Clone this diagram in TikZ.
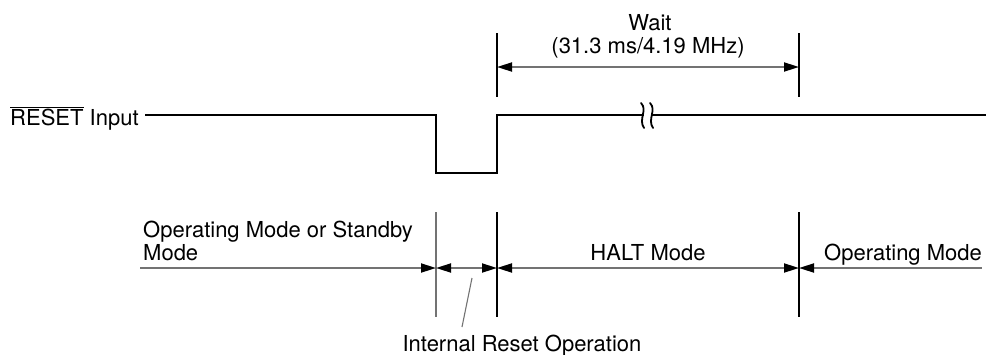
\documentclass[tikz,border=0pt]{standalone}
\usepackage{fontspec}
\setmainfont{TeX Gyre Heros}
\usetikzlibrary{arrows.meta}
\tikzset{
  tri/.tip={Triangle[length=15pt,width=9pt,color=black]},
  wave/.style={line width=2.9pt, black, line join=miter},
  dimline/.style={line width=1.8pt, black!55},
  ext/.style={line width=1.1pt, black},
  extg/.style={line width=1.1pt, black!55},
  lbl/.style={font=\fontsize{22}{24}\selectfont, inner sep=0pt, text=black},
  brk/.style={line width=1.8pt, black, line cap=round}
}
\begin{document}
\begin{tikzpicture}[x=1pt,y=-1pt]
\useasboundingbox (0,0) rectangle (989,354);
% coordinates of the waveform
\coordinate (w0) at (145,115);
\coordinate (wf) at (436,115);
\coordinate (wl1) at (436,173);
\coordinate (wl2) at (497,173);
\coordinate (wr) at (497,115);
\coordinate (b1) at (644,115);
\coordinate (b2) at (652,115);
\coordinate (wend) at (986,115);
% label
\node[lbl, anchor=base west] (reset) at (10,125) {$\overline{\mbox{RESET}}$ Input};
% waveform
\draw[wave] (w0) -- (wf) -- (wl1) -- (wl2) -- (wr) -- (b1);
\draw[wave] (b2) -- (wend);
% break mark
\draw[brk] (641,103) .. controls (648,110) and (638,119) .. (644,128);
\draw[brk] (650,103) .. controls (657,110) and (647,119) .. (653,128);
% wait dimension
\coordinate (wt1) at (497,33);
\coordinate (wb1) at (497,97);
\coordinate (wt2) at (799,33);
\coordinate (wb2) at (799,97);
\draw[ext] (wt1) -- (wb1);
\draw[ext] (wt2) -- (wb2);
\coordinate (wa1) at (497,67);
\coordinate (wa2) at (799,67);
\draw[dimline, {tri}-{tri}] (wa1) -- (wa2);
\node[lbl, anchor=base] (wait) at (650,30) {Wait};
\node[lbl, anchor=base] (waitv) at (648,53) {(31.3 ms/4.19 MHz)};
% bottom extension lines
\coordinate (e1t) at (436,212); \coordinate (e1b) at (436,317);
\coordinate (e2t) at (497,212); \coordinate (e2b) at (497,317);
\coordinate (e3t) at (799,212); \coordinate (e3b) at (799,317);
\draw[extg] (e1t) -- (e1b);
\draw[ext] (e2t) -- (e2b);
\draw[ext] (e3t) -- (e3b);
% dimension lines
\coordinate (d0) at (140,268);
\coordinate (d1) at (436,268);
\coordinate (d2) at (497,268);
\coordinate (d3) at (799,268);
\coordinate (d4) at (982,268);
\draw[dimline, -{tri}] (d0) -- (d1);
\draw[dimline, {tri}-{tri}] (d1) -- (d2);
\draw[dimline, {tri}-{tri}] (d2) -- (d3);
\draw[dimline, {tri}-] (d3) -- (d4);
% labels
\node[lbl, anchor=base west] (opsb1) at (143,237) {Operating Mode or Standby};
\node[lbl, anchor=base west] (opsb2) at (143,260) {Mode};
\node[lbl, anchor=base] (halt) at (648,260) {HALT Mode};
\node[lbl, anchor=base west] (opm) at (824,260) {Operating Mode};
\node[lbl, anchor=base] (irs) at (522,351) {Internal Reset Operation};
% leader
\coordinate (ls) at (472,278);
\coordinate (le) at (462,327);
\draw[extg] (ls) -- (le);
\end{tikzpicture}
\end{document}
